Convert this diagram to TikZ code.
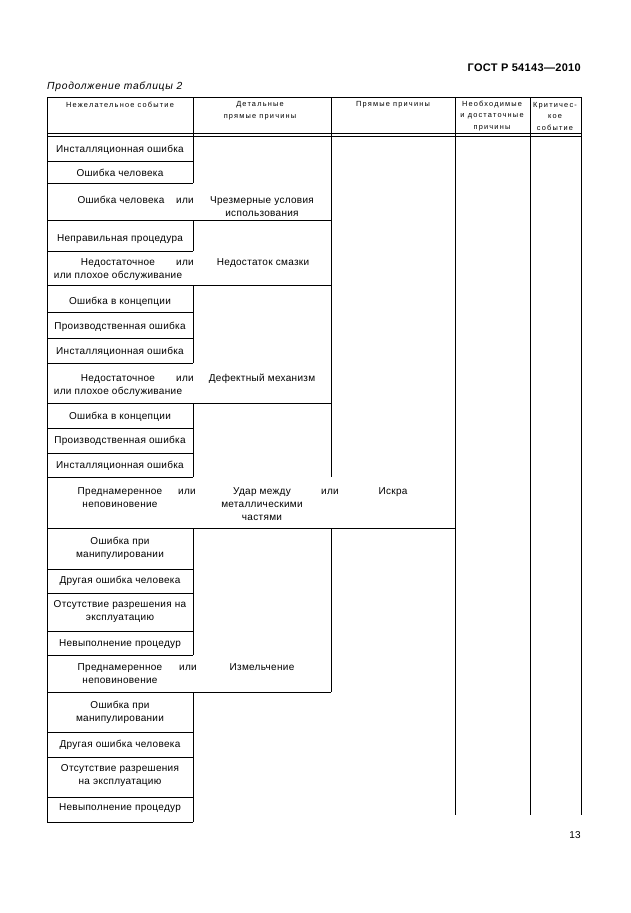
\documentclass[tikz,border=0pt]{standalone}
\usepackage{fontspec}
\setmainfont[LetterSpace=3]{Liberation Sans}
\newfontfamily\hdrfont[LetterSpace=16]{Liberation Sans}
\begin{document}
\begin{tikzpicture}[x=1pt,y=-1pt,
	cell/.style={font=\fontsize{10}{13}\selectfont,align=center,inner sep=0pt},
	one/.style={cell,text height=7.4pt,text depth=0pt},
	head/.style={font=\hdrfont\fontsize{7.4}{11.5}\selectfont,align=center,inner sep=0pt},
	rule/.style={line width=0.8pt}]
	\useasboundingbox (0,0) rectangle (630,913);
	
	% page head and foot
	\node[font=\bfseries\fontsize{11}{13}\selectfont,anchor=east,inner sep=0pt] (gost) at (581,67.5) {ГОСТ Р 54143—2010};
	\node[font=\itshape\fontsize{10.3}{12}\selectfont\addfontfeature{LetterSpace=7},anchor=west,inner sep=0pt] (cont) at (47,87) {Продолжение таблицы 2};
	\node[font=\fontsize{10}{12}\selectfont,anchor=east,inner sep=0pt] (page) at (581,835) {13};
	
	% frame and columns
	\draw[rule] (47,97) -- (581,97);
	\draw[rule] (47,133) -- (581,133);
	\draw[rule] (47,136) -- (581,136);
	\draw[rule] (47,97) -- (47,822);
	\draw[rule] (193,97) -- (193,136);
	\draw[rule] (331,97) -- (331,136);
	\draw[rule] (455,97) -- (455,815);
	\draw[rule] (530,97) -- (530,815);
	\draw[rule] (581,97) -- (581,815);
	
	% boxes of the first column
	\draw[rule] (193,136) -- (193,183);
	\draw[rule] (193,220) -- (193,251);
	\draw[rule] (193,285) -- (193,363);
	\draw[rule] (193,403) -- (193,477);
	\draw[rule] (193,528) -- (193,655);
	\draw[rule] (193,692) -- (193,822);
	\foreach \yy in {161,183,251,312,338,363,428,453,477,569,593,631,655,732,757,797,822}
		\draw[rule] (47,\yy) -- (193,\yy);
	
	% wider boxes
	\draw[rule] (331,136) -- (331,477);
	\draw[rule] (331,528) -- (331,692);
	\foreach \yy in {220,285,403,692}
		\draw[rule] (47,\yy) -- (331,\yy);
	\draw[rule] (47,528) -- (455,528);
	
	% header
	\node[head] (hundes) at (120,105) {Нежелательное событие};
	\node[head] (hdetail) at (260,110.5) {Детальные\\ прямые причины};
	\node[head] (hdirect) at (393,105) {Прямые причины};
	\node[head] (hneed) at (492,116) {Необходимые\\ и достаточные\\ причины};
	\node[head] (hcrit) at (555,116) {Критичес-\\ кое\\ событие};
	
	% rows
	\node[one] (inst1) at (120,149) {Инсталляционная ошибка};
	\node[one] (hum1) at (120,173) {Ошибка человека};
	\node[one] (hum2) at (121,200) {Ошибка человека};
	\node[one] (or1) at (185,200) {или};
	\node[cell] (excess) at (262,206.7) {Чрезмерные условия\\ использования};
	\node[one] (proc1) at (120,238) {Неправильная процедура};
	\node[cell] (maint1) at (118,269.3) {Недостаточное\\ или плохое обслуживание};
	\node[one] (or2) at (185,262) {или};
	\node[one] (lubr) at (263,262) {Недостаток смазки};
	\node[one] (conc1) at (120,301) {Ошибка в концепции};
	\node[one] (prod1) at (120,326) {Производственная ошибка};
	\node[one] (inst2) at (120,351) {Инсталляционная ошибка};
	\node[cell] (maint2) at (118,385.4) {Недостаточное\\ или плохое обслуживание};
	\node[one] (or3) at (185,378) {или};
	\node[one] (mech) at (262,378) {Дефектный механизм};
	\node[one] (conc2) at (120,416) {Ошибка в концепции};
	\node[one] (prod2) at (120,440) {Производственная ошибка};
	\node[one] (inst3) at (120,465) {Инсталляционная ошибка};
	\node[cell] (disob1) at (120,497.5) {Преднамеренное\\ неповиновение};
	\node[one] (or4) at (187,491) {или};
	\node[cell] (impact) at (262,504) {Удар между\\ металлическими\\ частями};
	\node[one] (or5) at (330,491) {или};
	\node[one] (spark) at (393,491) {Искра};
	\node[cell] (handl1) at (120,548) {Ошибка при\\ манипулировании};
	\node[one] (other1) at (120,580) {Другая ошибка человека};
	\node[cell] (perm1) at (120,611.5) {Отсутствие разрешения на\\ эксплуатацию};
	\node[one] (proc2) at (120,643) {Невыполнение процедур};
	\node[cell] (disob2) at (120,673.5) {Преднамеренное\\ неповиновение};
	\node[one] (or6) at (188,667) {или};
	\node[one] (crush) at (262,667) {Измельчение};
	\node[cell] (handl2) at (120,712) {Ошибка при\\ манипулировании};
	\node[one] (other2) at (120,744) {Другая ошибка человека};
	\node[cell] (perm2) at (120,776) {Отсутствие разрешения\\ на эксплуатацию};
	\node[one] (proc3) at (120,807) {Невыполнение процедур};
\end{tikzpicture}
\end{document}
